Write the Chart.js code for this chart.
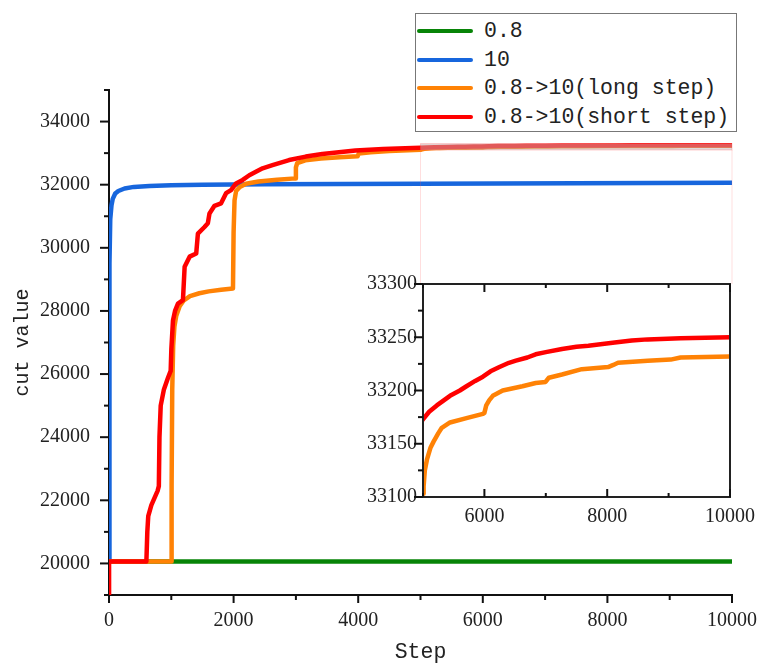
<!DOCTYPE html>
<html>
<head>
<meta charset="utf-8">
<script src="https://cdn.jsdelivr.net/npm/chart.js@4.4.1/dist/chart.umd.min.js"></script>
<style>
  html, body { margin: 0; padding: 0; background: #fff; }
  #wrap { position: relative; width: 763px; height: 666px; }
  #mainChart { position: absolute; left: 0; top: 0; }
  #insetChart { position: absolute; left: 350px; top: 270px; }
  #legend { position: absolute; left: 415px; top: 13px; width: 322px; height: 119px;
            border: 1px solid #777; background: #fff; box-sizing: border-box; padding-top: 3px; }
  .item { display: flex; align-items: center; height: 28.5px; white-space: nowrap;
          font-family: "Liberation Mono", monospace; font-size: 21.5px; color: #222; }
  .swatch { width: 56px; height: 4px; border-radius: 2px; margin-left: 1px; margin-right: 11px; }
</style>
</head>
<body>
<div id="wrap">
  <canvas id="mainChart" width="763" height="666"></canvas>
  <canvas id="insetChart" width="413" height="260"></canvas>
  <div id="legend"></div>
</div>
<script>
// series
const seriesLabels = ['0.8', '10', '0.8->10(long step)', '0.8->10(short step)'];
const seriesColors = ['#078407', '#1766dd', '#ff8205', '#ff0000'];

const greenSteps = [0, 10000];
const greenValues = [20060, 20060];

const blueSteps = [0, 5, 10, 20, 40, 60, 100, 150, 250, 400, 650, 1000, 1500, 2500, 5000, 7500, 10000];
const blueValues = [20060, 26000, 29500, 30900, 31350, 31550, 31720, 31800, 31880, 31930, 31960, 31985, 31998, 32010, 32030, 32045, 32060];

const orangeSteps = [0, 1000, 1005, 1015, 1030, 1050, 1080, 1134, 1200, 1300, 1450, 1600, 1800, 1990,
  2000, 2015, 2040, 2100, 2200, 2400, 2700, 2990, 3000, 3020, 3150, 3400, 3700, 3990, 4010, 4200, 4500, 4800,
  5000, 5010, 5030, 5064, 5120, 5172, 5250, 5306, 5440, 5708, 5976, 6000, 6030, 6080, 6137, 6298, 6620, 6835,
  6996, 7050, 7264, 7586, 8015, 8100, 8176, 8659, 9034, 9195, 10000];
const orangeValues = [20060, 20060, 22500, 25500, 26900, 27500, 27850, 28150, 28330, 28470, 28560, 28620, 28670, 28710,
  30500, 31500, 31800, 31930, 32030, 32100, 32160, 32200, 32550, 32680, 32770, 32830, 32870, 32900, 32990, 33030, 33065, 33090,
  33103, 33110, 33125, 33135, 33146, 33152, 33160, 33165, 33170, 33174, 33178, 33179, 33186, 33191, 33195, 33200, 33204, 33207,
  33208, 33212, 33215, 33220, 33222, 33224, 33226, 33228, 33229, 33231, 33232];

const redSteps = [0, 1, 600, 615, 630, 680, 780, 800, 810, 830, 880, 950, 990, 1001, 1027, 1060, 1107, 1187, 1214, 1294,
  1400, 1427, 1533, 1587, 1613, 1693, 1799, 1879, 1959, 2039, 2146, 2252, 2358, 2465, 2624, 2891, 3158, 3424, 3956,
  4400, 4755, 5000, 5100, 5225, 5440, 5600, 5708, 5850, 5976, 6100, 6245, 6400, 6513, 6700, 6835, 7000, 7264, 7500,
  7693, 8122, 8400, 8659, 9195, 10000];
const redValues = [19000, 20060, 20060, 21000, 21500, 21850, 22300, 22450, 24000, 25000, 25500, 25900, 26100, 26800, 27700, 28000, 28230, 28340, 29400, 29720,
  29820, 30450, 30660, 30780, 31090, 31330, 31410, 31730, 31830, 32040, 32150, 32300, 32410, 32520, 32620, 32780, 32890, 32970, 33080,
  33130, 33155, 33173, 33180, 33186, 33195, 33200, 33204, 33209, 33213, 33218, 33222, 33226, 33228, 33231, 33234, 33236, 33239, 33241,
  33242, 33245, 33247, 33248, 33249, 33250];

// axes and tick labels
const mainXRange = [0, 10000];
const mainYRange = [19000, 35000];
const mainXLabels = [0, 2000, 4000, 6000, 8000, 10000];
const mainYLabels = [20000, 22000, 24000, 26000, 28000, 30000, 32000, 34000];
const insetXRange = [5000, 10000];
const insetYRange = [33100, 33300];
const insetXLabels = [6000, 8000, 10000];
const insetYLabels = [33100, 33150, 33200, 33250, 33300];

const serifFont = { family: '"Liberation Serif", serif', size: 20 };
const monoFont = { family: '"Liberation Mono", monospace', size: 20 };

function toPoints(steps, values) {
  return steps.map((s, i) => ({ x: s, y: values[i] }));
}

function makeDataset(idx, steps, values) {
  return {
    label: seriesLabels[idx],
    data: toPoints(steps, values),
    borderColor: seriesColors[idx],
    backgroundColor: seriesColors[idx],
    borderWidth: 4.5,
    pointRadius: 0,
    tension: 0,
    borderJoinStyle: 'round',
    clip: 0,
    order: 3 - idx
  };
}

// legend
const legendEl = document.getElementById('legend');
seriesLabels.forEach((lab, i) => {
  const row = document.createElement('div');
  row.className = 'item';
  const sw = document.createElement('span');
  sw.className = 'swatch';
  sw.style.background = seriesColors[i];
  const tx = document.createElement('span');
  tx.textContent = lab;
  row.appendChild(sw);
  row.appendChild(tx);
  legendEl.appendChild(row);
});

// tick marks drawn by hand: major = labelled tick, minor = unlabelled
function drawTicks(ctx, scale, side, majorLen, minorLen) {
  const area = scale.chart.chartArea;
  ctx.save();
  ctx.strokeStyle = '#111';
  ctx.lineWidth = 2;
  scale.ticks.forEach(t => {
    const len = t.label !== '' ? majorLen : minorLen;
    const p = scale.getPixelForValue(t.value);
    ctx.beginPath();
    if (side === 'bottom-out') { ctx.moveTo(p, area.bottom); ctx.lineTo(p, area.bottom + len); }
    if (side === 'bottom-in') { ctx.moveTo(p, area.bottom); ctx.lineTo(p, area.bottom - len); }
    if (side === 'top-in') { ctx.moveTo(p, area.top); ctx.lineTo(p, area.top + len); }
    if (side === 'left-out') { ctx.moveTo(area.left, p); ctx.lineTo(area.left - len, p); }
    ctx.stroke();
  });
  ctx.restore();
}

function labelCb(list) {
  return v => list.includes(v) ? String(v) : '';
}

// inset chart
const insetCanvas = document.getElementById('insetChart');
const insetChart = new Chart(insetCanvas, {
  type: 'line',
  data: {
    datasets: [
      makeDataset(2, orangeSteps, orangeValues),
      makeDataset(3, redSteps, redValues)
    ]
  },
  options: {
    responsive: false,
    animation: false,
    devicePixelRatio: 1,
    layout: { padding: { top: 13, right: 30, left: 0, bottom: 0 } },
    plugins: { legend: { display: false }, tooltip: { enabled: false } },
    scales: {
      x: {
        type: 'linear', min: insetXRange[0], max: insetXRange[1],
        ticks: { stepSize: 1000, autoSkip: false, maxRotation: 0, font: serifFont, color: '#222', padding: 8,
                 callback: labelCb(insetXLabels) },
        grid: { display: true, drawOnChartArea: false, drawTicks: false },
        border: { display: false },
        afterFit: s => { s.height = 33; }
      },
      y: {
        type: 'linear', min: insetYRange[0], max: insetYRange[1],
        ticks: { stepSize: 25, autoSkip: false, font: serifFont, color: '#222', padding: 2,
                 callback: labelCb(insetYLabels) },
        grid: { display: true, drawOnChartArea: false, tickLength: 4, tickColor: 'rgba(0,0,0,0)' },
        border: { display: false },
        afterFit: s => { s.width = 73; }
      }
    }
  },
  plugins: [{
    id: 'insetFrame',
    afterDraw(chart) {
      const { ctx, chartArea: a, scales } = chart;
      ctx.save();
      ctx.strokeStyle = '#222';
      ctx.lineWidth = 2;
      ctx.strokeRect(a.left, a.top, a.right - a.left, a.bottom - a.top);
      ctx.restore();
      drawTicks(ctx, scales.x, 'bottom-in', 8, 4);
      drawTicks(ctx, scales.x, 'top-in', 8, 4);
      drawTicks(ctx, scales.y, 'left-out', 9, 5);
    }
  }]
});

// main chart
new Chart(document.getElementById('mainChart'), {
  type: 'line',
  data: {
    datasets: [
      makeDataset(0, greenSteps, greenValues),
      makeDataset(1, blueSteps, blueValues),
      makeDataset(2, orangeSteps, orangeValues),
      makeDataset(3, redSteps, redValues)
    ]
  },
  options: {
    responsive: false,
    animation: false,
    devicePixelRatio: 1,
    layout: { padding: { top: 90, right: 28, left: 0, bottom: 0 } },
    plugins: { legend: { display: false }, tooltip: { enabled: false } },
    scales: {
      x: {
        type: 'linear', min: mainXRange[0], max: mainXRange[1],
        ticks: { stepSize: 1000, autoSkip: false, maxRotation: 0, font: serifFont, color: '#222', padding: 6,
                 callback: labelCb(mainXLabels) },
        grid: { display: true, drawOnChartArea: false, tickLength: 8, tickColor: 'rgba(0,0,0,0)' },
        border: { color: '#111', width: 2 },
        title: { display: true, text: 'Step', font: { family: monoFont.family, size: 21.5 }, color: '#222',
                 padding: { top: 0, bottom: 1 } },
        afterFit: s => { s.height = 71; }
      },
      y: {
        type: 'linear', min: mainYRange[0], max: mainYRange[1],
        ticks: { stepSize: 1000, autoSkip: false, font: serifFont, color: '#222', padding: 11,
                 callback: labelCb(mainYLabels) },
        grid: { display: true, drawOnChartArea: false, tickLength: 8, tickColor: 'rgba(0,0,0,0)' },
        border: { color: '#111', width: 2 },
        title: { display: true, text: 'cut value', font: monoFont, color: '#222', padding: { top: 11, bottom: 0 } },
        afterFit: s => { s.width = 109; }
      }
    }
  },
  plugins: [{
    id: 'zoomBox',
    afterDatasetsDraw(chart) {
      const { ctx, scales: { x, y } } = chart;
      const l = x.getPixelForValue(insetXRange[0]);
      const r = x.getPixelForValue(insetXRange[1]);
      const t = y.getPixelForValue(insetYRange[1]);
      const b = y.getPixelForValue(insetYRange[0]);
      const insetTop = insetCanvas.offsetTop + insetChart.chartArea.top;
      ctx.save();
      ctx.fillStyle = 'rgba(195,180,180,0.5)';
      ctx.fillRect(l, t, r - l, b - t);
      ctx.strokeStyle = 'rgba(255,90,90,0.3)';
      ctx.lineWidth = 1;
      ctx.strokeRect(l, t, r - l, b - t);
      ctx.strokeStyle = 'rgba(255,90,90,0.2)';
      ctx.beginPath();
      ctx.moveTo(l, b); ctx.lineTo(l, insetTop);
      ctx.moveTo(r, b); ctx.lineTo(r, insetTop);
      ctx.stroke();
      ctx.restore();
    },
    afterDraw(chart) {
      drawTicks(chart.ctx, chart.scales.x, 'bottom-out', 8, 5);
      drawTicks(chart.ctx, chart.scales.y, 'left-out', 9, 5);
    }
  }]
});
</script>
</body>
</html>
